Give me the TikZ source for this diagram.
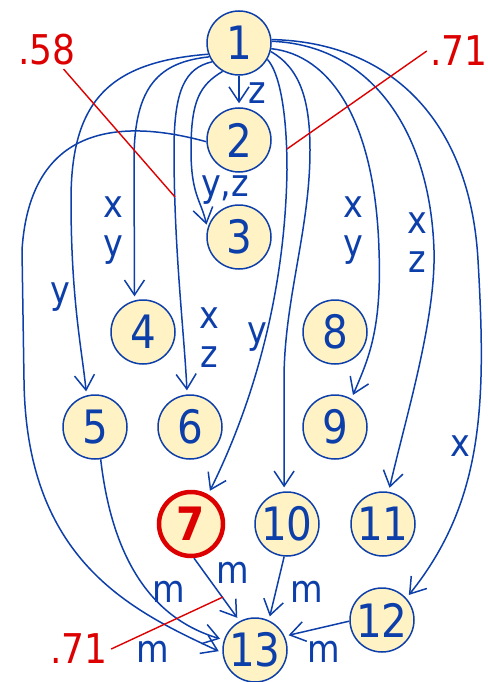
\documentclass[tikz,border=0pt]{standalone}
\usepackage{fontspec}
\setmainfont{DejaVu Sans}[FakeStretch=0.88]
\usetikzlibrary{arrows.meta}

\definecolor{edgeblue}{HTML}{0D3FAA}
\definecolor{cream}{HTML}{FFF2C4}
\definecolor{corrred}{HTML}{DD0000}

\begin{document}
\begin{tikzpicture}[
    x=1pt, y=-1pt,
    state/.style={circle, draw=edgeblue, line width=1.5pt, fill=cream,
                  minimum size=64pt, inner sep=0pt, text=edgeblue,
                  font=\fontsize{46}{46}\selectfont},
    hot/.style={state, draw=corrred, line width=4.5pt, text=corrred,
                font=\fontsize{46}{46}\selectfont\bfseries},
    lbl/.style={text=edgeblue, align=center,
                font=\fontsize{38}{39}\selectfont},
    corr/.style={text=corrred, font=\fontsize{41}{41}\selectfont},
    arr/.style={-{Straight Barb[length=15pt, width=20pt]}, draw=edgeblue,
                line width=1.5pt, shorten >=4pt},
    cline/.style={draw=corrred, line width=1.4pt}
]
  \useasboundingbox (0,0) rectangle (487,682);

  % states
  \node[state] (n1)  at (239,43)  {1};
  \node[state] (n2)  at (239,140) {2};
  \node[state] (n3)  at (239,237) {3};
  \node[state] (n4)  at (143,332) {4};
  \node[state] (n8)  at (335,332) {8};
  \node[state] (n5)  at (95,427)  {5};
  \node[state] (n6)  at (190,427) {6};
  \node[state] (n9)  at (335,427) {9};
  \node[hot]   (n7)  at (191,524) {7};
  \node[state] (n10) at (287,524) {10};
  \node[state] (n11) at (383,524) {11};
  \node[state] (n12) at (382,620) {12};
  \node[state] (n13) at (255,650) {13};

  % edges out of 1
  \draw[arr] (n1) -- (n2);
  \draw[arr] (n1.240) .. controls (200,85) and (191,100) .. (191,150)
             .. controls (191,195) and (201,200) .. (n3.165);
  \draw[arr] (n1.205) .. controls (160,62) and (134,85) .. (134,160) -- (n4.105);
  \draw[arr] (n1.200) .. controls (110,62) and (71,100) .. (71,200)
             .. controls (71,300) and (82,350) .. (n5.105);
  \draw[arr] (n1.215) .. controls (185,68) and (174,90) .. (174,150)
             .. controls (174,250) and (184,330) .. (n6.95);
  \draw[arr] (n1.-30) .. controls (279,72) and (287,110) .. (287,170)
             .. controls (285,300) and (250,410) .. (n7.60);
  \draw[arr] (n1.-15) .. controls (300,68) and (310,100) .. (310,150)
             .. controls (310,230) and (284,300) .. (284,380) -- (n10.95);
  \draw[arr] (n1.-10) .. controls (330,55) and (375,120) .. (379,250)
             .. controls (382,330) and (368,360) .. (n9.60);
  \draw[arr] (n1.3) .. controls (370,45) and (430,130) .. (434,250)
             .. controls (436,320) and (405,420) .. (n11.80);
  \draw[arr] (n1.6) .. controls (390,42) and (470,120) .. (478,260)
             .. controls (486,400) and (485,500) .. (n12.42);

  % edges into 13
  \draw[arr] (n2.183) .. controls (120,118) and (30,125) .. (22,250) -- (24,380)
             .. controls (26,560) and (130,610) .. (n13.185);
  \draw[arr] (n5.280) .. controls (110,540) and (140,615) .. (n13.162);
  \draw[arr] (n7.275) -- (n13.118);
  \draw[arr] (n10.265) -- (n13.65);
  \draw[arr] (n12.182) -- (n13.25);

  % edge labels
  \node[lbl] (l12)   at (257,93)  {z};
  \node[lbl] (l13)   at (225,190) {y,z};
  \node[lbl] (l14)   at (113,231) {x\\y};
  \node[lbl] (l15)   at (60,297)  {y};
  \node[lbl] (l16)   at (209,338) {x\\z};
  \node[lbl] (l17)   at (257,337) {y};
  \node[lbl] (l19)   at (353,231) {x\\y};
  \node[lbl] (l111)  at (417,243) {x\\z};
  \node[lbl] (l112)  at (460,446) {x};
  \node[lbl] (l713)  at (233,573) {m};
  \node[lbl] (l513)  at (169,592) {m};
  \node[lbl] (l213)  at (153,652) {m};
  \node[lbl] (l1013) at (307,592) {m};
  \node[lbl] (l1213) at (324,652) {m};

  % correlations
  \node[corr] (c58)  at (47,50)  {.58};
  \node[corr] (c71a) at (459,51) {.71};
  \node[corr] (c71b) at (79,649) {.71};
  \coordinate (p58)  at (175,197);
  \coordinate (p71a) at (287,149);
  \coordinate (p71b) at (223,597);
  \draw[cline] (c58) -- (p58);
  \draw[cline] (c71a.west) -- (p71a);
  \draw[cline] (c71b.east) -- (p71b);
\end{tikzpicture}
\end{document}
